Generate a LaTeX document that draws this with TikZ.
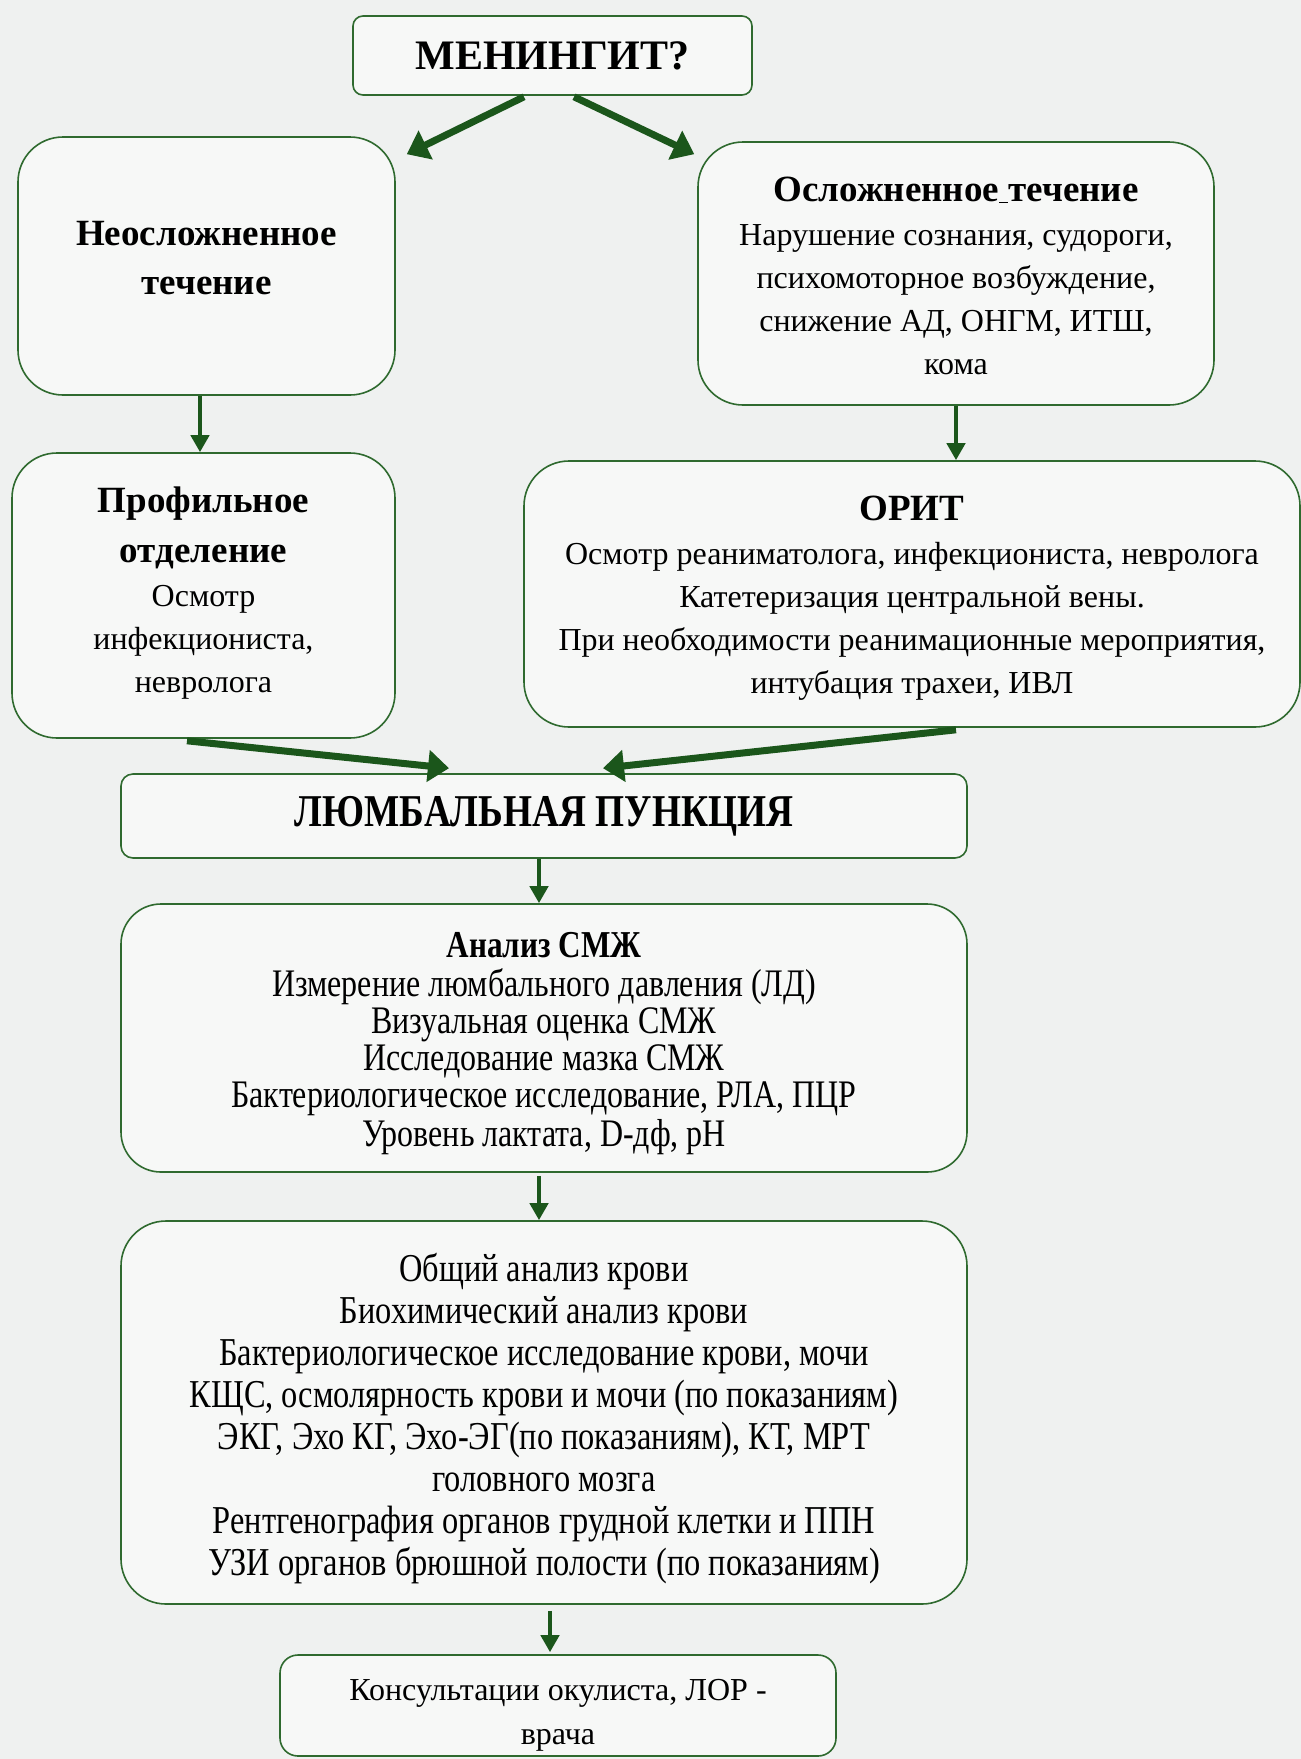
\documentclass[tikz,border=0pt]{standalone}
\usepackage{fontspec}
\setmainfont{Liberation Serif}
\newfontfamily\narrowf[FakeStretch=0.82]{Liberation Serif}
\usetikzlibrary{arrows.meta,calc}
\definecolor{bg}{HTML}{EFF1F0}
\definecolor{boxfill}{HTML}{F7F8F7}
\definecolor{boxline}{HTML}{2F6A2F}
\definecolor{arr}{HTML}{1B561B}
\tikzset{
  box/.style={draw=boxline, line width=1.6pt, fill=boxfill, align=center, inner sep=0pt, text=black},
  bigarrow/.style={draw=arr, line width=7pt, -{Triangle[length=21pt,width=31pt]}},
  smallarrow/.style={draw=arr, line width=4.5pt, -{Triangle[length=17pt,width=18pt]}},
}
\newcommand\hd[1]{{\fontsize{37}{43}\selectfont\bfseries #1}}
% shift a block of centred lines down by #1 without changing its box
\newcommand\lines[2]{\raisebox{-#1}[\height][\depth]{\begin{tabular}{@{}c@{}}#2\end{tabular}}}
\begin{document}
\begin{tikzpicture}[x=1pt,y=-1pt]
\useasboundingbox (0,0) rectangle (1301,1759);
\fill[bg] (0,0) rectangle (1301,1759);

\node[box, rounded corners=10pt, minimum width=399pt, minimum height=79pt,
  font=\fontsize{42}{50}\selectfont\bfseries] (men) at (552.5,55.5) {МЕНИНГИТ?};

\node[box, rounded corners=45pt, minimum width=377pt, minimum height=258pt,
  font=\fontsize{37}{49}\selectfont\bfseries] (neo) at (206.5,266)
  {\lines{-6pt}{Неосложненное\\ течение}};

\node[box, rounded corners=45pt, minimum width=516pt, minimum height=263pt,
  font=\fontsize{32}{43}\selectfont] (osl) at (956,273.5)
  {\lines{5.5pt}{\hd{Осложненное\underline{\ }течение}\\[1pt]
   Нарушение сознания, судороги,\\ психомоторное возбуждение,\\ снижение АД, ОНГМ, ИТШ,\\ кома}};

\node[box, rounded corners=45pt, minimum width=383pt, minimum height=285pt,
  font=\fontsize{32}{43}\selectfont] (prof) at (203.5,595.5)
  {\lines{-2pt}{\hd{Профильное}\\[7pt] \hd{отделение}\\[1pt]
   Осмотр\\ инфекциониста,\\ невролога}};

\node[box, rounded corners=45pt, minimum width=776pt, minimum height=266pt,
  font=\fontsize{32}{43}\selectfont] (orit) at (912,594)
  {\lines{4.5pt}{\hd{ОРИТ}\\[1pt]
   Осмотр реаниматолога, инфекциониста, невролога\\
   Катетеризация центральной вены.\\
   При необходимости реанимационные мероприятия,\\
   интубация трахеи, ИВЛ}};

\node[box, rounded corners=12pt, minimum width=846pt, minimum height=84pt,
  font=\narrowf\fontsize{45.5}{50}\selectfont\bfseries] (lumb) at (544,816) {ЛЮМБАЛЬНАЯ ПУНКЦИЯ};

\node[box, rounded corners=40pt, minimum width=846pt, minimum height=268pt,
  font=\narrowf\fontsize{39}{37}\selectfont] (anal) at (544,1038)
  {\lines{6.5pt}{{\bfseries\fontsize{38}{37}\selectfont Анализ СМЖ}\\
   Измерение люмбального давления (ЛД)\\
   Визуальная оценка СМЖ\\
   Исследование мазка СМЖ\\
   Бактериологическое исследование, РЛА, ПЦР\\
   Уровень лактата, D-дф, pH}};

\node[box, rounded corners=45pt, minimum width=846pt, minimum height=383pt,
  font=\narrowf\fontsize{39.5}{42}\selectfont] (big) at (544,1412.5)
  {\lines{7.5pt}{Общий анализ крови\\
   Биохимический анализ крови\\
   Бактериологическое исследование крови, мочи\\
   КЩС, осмолярность крови и мочи (по показаниям)\\
   ЭКГ, Эхо КГ, Эхо-ЭГ(по показаниям), КТ, МРТ\\
   головного мозга\\
   Рентгенография органов грудной клетки и ППН\\
   УЗИ органов брюшной полости (по показаниям)}};

\node[box, rounded corners=18pt, minimum width=556pt, minimum height=101pt,
  font=\fontsize{32}{44}\selectfont] (kons) at (558,1705.5)
  {\lines{8pt}{Консультации окулиста, ЛОР -\\ врача}};

% connectors
\draw[bigarrow] ($(men.south)+(-28.5,1)$) -- ($(neo.north east)+(11,18)$);
\draw[bigarrow] ($(men.south)+(21.5,1)$) -- ($(osl.north west)+(-3,13)$);
\draw[smallarrow] ($(neo.south)+(-6.5,0)$) -- ($(prof.north)+(-3.5,0)$);
\draw[smallarrow] (osl.south) -- (osl.south |- orit.north);
\draw[bigarrow] ($(prof.south)+(-16.5,2)$) -- ($(lumb.north)+(-95,-5)$);
\draw[bigarrow] ($(orit.south)+(44,2)$) -- ($(lumb.north)+(59,-5)$);
\draw[smallarrow] ($(lumb.south)+(-5,0)$) -- ($(anal.north)+(-5,0)$);
\draw[smallarrow] ($(anal.south)+(-5,3)$) -- ($(big.north)+(-5,0)$);
\draw[smallarrow] ($(big.south)+(6,6)$) -- ($(kons.north)+(-8,-2)$);
\end{tikzpicture}
\end{document}
